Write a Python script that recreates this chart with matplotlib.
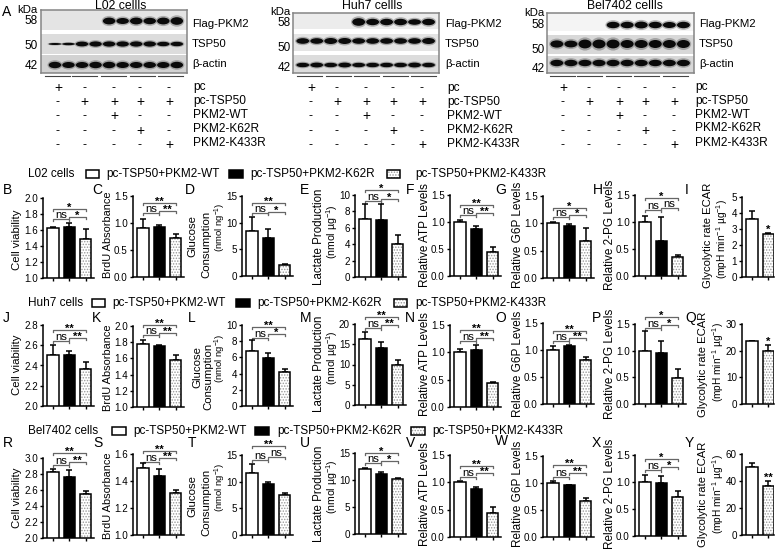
import matplotlib
matplotlib.use('Agg')
import matplotlib.pyplot as plt
from matplotlib.patches import Ellipse, Rectangle

plt.rcParams['font.family'] = ['Liberation Sans', 'DejaVu Sans']
plt.rcParams['mathtext.fontset'] = 'custom'
plt.rcParams['mathtext.rm'] = 'Liberation Sans'
plt.rcParams['mathtext.default'] = 'regular'
plt.rcParams['hatch.linewidth'] = 0.7

# bar heights and top of the error bars
vals_B = [1.63, 1.64, 1.49]; tops_B = [1.64, 1.69, 1.61]
vals_C = [0.90, 0.92, 0.73]; tops_C = [1.08, 0.97, 0.80]
vals_D = [8.5, 7.1, 2.0]; tops_D = [11.0, 8.8, 2.3]
vals_E = [7.1, 7.0, 4.0]; tops_E = [8.9, 8.9, 5.1]
vals_F = [1.00, 0.87, 0.44]; tops_F = [1.04, 0.92, 0.53]
vals_G = [1.00, 0.96, 0.67]; tops_G = [1.03, 0.98, 0.92]
vals_H = [1.00, 0.65, 0.35]; tops_H = [1.12, 1.09, 0.39]
vals_I = [3.65, 2.67]; tops_I = [4.15, 2.75]
vals_J = [2.50, 2.50, 2.37]; tops_J = [2.60, 2.54, 2.43]
vals_K = [1.78, 1.75, 1.58]; tops_K = [1.83, 1.77, 1.64]
vals_L = [6.8, 5.9, 4.2]; tops_L = [8.1, 6.6, 4.6]
vals_M = [16.3, 14.0, 9.8]; tops_M = [18.0, 15.6, 11.1]
vals_N = [1.00, 1.05, 0.43]; tops_N = [1.06, 1.14, 0.45]
vals_O = [1.00, 1.07, 0.82]; tops_O = [1.08, 1.10, 0.87]
vals_P = [1.00, 0.95, 0.49]; tops_P = [1.36, 1.18, 0.66]
vals_Q = [23.5, 19.7]; tops_Q = [23.8, 22.0]
vals_R = [2.82, 2.76, 2.55]; tops_R = [2.86, 2.85, 2.59]
vals_S = [1.50, 1.44, 1.31]; tops_S = [1.53, 1.49, 1.33]
vals_T = [11.6, 9.5, 7.5]; tops_T = [13.3, 10.0, 7.8]
vals_U = [12.0, 11.2, 10.1]; tops_U = [12.3, 11.4, 10.4]
vals_V = [1.00, 0.87, 0.44]; tops_V = [1.03, 0.92, 0.54]
vals_W = [1.00, 0.96, 0.66]; tops_W = [1.04, 0.97, 0.73]
vals_X = [1.00, 0.98, 0.72]; tops_X = [1.13, 1.12, 0.83]
vals_Y = [50.5, 36.5]; tops_Y = [53.0, 40.0]

# band strength per lane, blots
flag_l02 = [0, 0, 0, 0, .85, .75, .85, .8, .85, .95]
tsp_l02 = [.25, .3, .6, .65, .65, .65, .65, .65, .55, .55]
act_l02 = [.8, .75, .75, .8, .8, .75, .75, .75, .75, .8]
flag_huh = [0, 0, 0, 0, .95, .8, .8, .8, .7, .8]
tsp_huh = [.7, .7, .75, .75, .7, .7, .7, .7, .7, .75]
act_huh = [.55, .6, .55, .6, .55, .55, .55, .55, .6, .55]
flag_bel = [0, 0, 0, 0, .8, .8, .85, .8, .75, .8]
tsp_bel = [.9, .85, 1.1, 1.1, 1.1, 1.0, 1.0, 1.0, 1.0, 1.0]
act_bel = [.8, .8, .8, .8, .8, .8, .8, .8, .8, .8]

band_names = ['Flag-PKM2', 'TSP50', 'β-actin']
row_names = ['pc', 'pc-TSP50', 'PKM2-WT', 'PKM2-K62R', 'PKM2-K433R']
signs = [['+', '-', '-', '-', '-'],
         ['-', '+', '+', '+', '+'],
         ['-', '-', '+', '-', '-'],
         ['-', '-', '-', '+', '-'],
         ['-', '-', '-', '-', '+']]
kda = ['58', '50', '42']
group_names = ['pc-TSP50+PKM2-WT', 'pc-TSP50+PKM2-K62R', 'pc-TSP50+PKM2-K433R']

fig = plt.figure(figsize=(7.78, 5.5), dpi=100)
W, H = 778.0, 550.0

# overlay in pixel coords for all the free text
ov = fig.add_axes([0, 0, 1, 1])
ov.set_xlim(0, W)
ov.set_ylim(H, 0)
ov.axis('off')


def draw_blot(box, flag, tsp, act, strips, rows, greys, lane_lim):
    x0, y0, x1, y1 = box
    ax = fig.add_axes([x0 / W, 1 - y1 / H, (x1 - x0) / W, (y1 - y0) / H])
    ax.set_xlim(lane_lim)
    ax.set_ylim(y1, y0)
    ax.set_xticks([])
    ax.set_yticks([])
    for s in ax.spines.values():
        s.set_color('#858585')
        s.set_linewidth(1.1)
    for (a, b), g in zip(strips, greys):
        ax.axhspan(a, b, color=g, lw=0)
    for strength, yc in zip([flag, tsp, act], rows):
        for lane, st in enumerate(strength):
            if st == 0:
                continue
            ax.add_patch(Ellipse((lane, yc), 1.1, 12 * st, color='#555555', alpha=0.4, lw=0))
            ax.add_patch(Ellipse((lane, yc), 0.92, 8 * st, color='#0a0a0a', lw=0))


draw_blot((41, 10, 187, 73), flag_l02, tsp_l02, act_l02,
          [(10, 30), (34, 54), (55, 73)], [21, 44, 65], ['#e4e4e4', '#dcdcdc', '#d2d2d2'], (-1.03, 9.75))
draw_blot((293, 13, 439, 73), flag_huh, tsp_huh, act_huh,
          [(13, 29), (34, 51), (55, 73)], [22, 41, 65], ['#ececec', '#e4e4e4', '#dcdcdc'], (-0.7, 9.75))
draw_blot((547, 13, 694, 73), flag_bel, tsp_bel, act_bel,
          [(13, 31), (35, 54), (56, 73)], [25, 44, 63], ['#f4f4f4', '#d8d8d8', '#d8d8d8'], (-0.7, 9.75))

ov.text(2, 12, 'A', fontsize=10, va='center', ha='left')
for cx, cy, name in [(121, 6, 'L02 cellls'), (372, 6, 'Huh7 cellls'), (625, 6, 'Bel7402 cellls')]:
    ov.text(cx, cy, name, fontsize=8.8, ha='center', va='center')
for rx, ys in [(38, [10, 21, 46, 66]), (291, [12, 23, 48, 68]), (545, [13, 25, 50, 69])]:
    ov.text(rx, ys[0], 'kDa', fontsize=8.2, ha='right', va='center')
    for k, yy in zip(kda, ys[1:]):
        ov.text(rx, yy, k, fontsize=8.5, ha='right', va='center')
for lx, ys in [(192, [24, 44, 64]), (445, [24, 44, 64]), (699, [24, 44, 64])]:
    for name, yy in zip(band_names, ys):
        ov.text(lx, yy, name, fontsize=8.2, ha='left', va='center')

# lines under the blots and the +/- table
for seg in [[45, 72, 101, 130, 158], [297, 326, 354, 383, 411], [550, 577, 606, 634, 663]]:
    for sx in seg:
        ov.plot([sx, sx + 25], [76, 76], color='#444444', lw=0.8)
for cols, lx, ly in [([58, 84.5, 114, 140, 169], 193, [87, 101, 115, 129, 143]),
                     ([311, 337, 366, 393, 422], 447, [88, 102, 116, 130, 144]),
                     ([563, 589, 619, 645, 674], 695, [87, 101, 115, 128, 143])]:
    for r, name in enumerate(row_names):
        ov.text(lx, ly[r], name, fontsize=8.6, ha='left', va='center')
        for cx, sg in zip(cols, signs[r]):
            ov.text(cx, 88 + 14.2 * r, sg, fontsize=10 if sg == '+' else 9, ha='center', va='center')


def leg_box(x0, x1, yc, kind):
    if kind == 2:
        ov.add_patch(Rectangle((x0, yc - 4), x1 - x0, 8, fc='white', ec='#999999', hatch='......', lw=0))
        ov.add_patch(Rectangle((x0, yc - 4), x1 - x0, 8, fc='none', ec='black', lw=1.1))
    else:
        ov.add_patch(Rectangle((x0, yc - 4), x1 - x0, 8, fc='white' if kind == 0 else 'black', ec='black', lw=1.1))


for name, yc, boxes, texts in [('L02 cells', 174, [(86, 99), (229, 243), (387, 400)], [106, 250, 415]),
                               ('Huh7 cells', 303, [(92, 105), (236, 250), (394, 407)], [112, 257, 415]),
                               ('Bel7402 cells', 431, [(112, 126), (255, 269), (411, 425)], [133, 277, 432])]:
    ov.text(28, yc, name, fontsize=8.5, ha='left', va='center')
    for i in range(3):
        leg_box(boxes[i][0], boxes[i][1], yc, i)
        ov.text(texts[i], yc, group_names[i], fontsize=8.5, ha='left', va='center')

PX = 16.3  # px between bars


def draw_panel(letter, lpos, vals, tops, spine_x, y_top, y_bot, ymin, ymax, step, fmt, br=None, blab=None, star=None):
    n = len(vals)
    wpx = 51 if n == 3 else 32
    ax = fig.add_axes([spine_x / W, 1 - y_bot / H, wpx / W, (y_bot - y_top) / H])
    ax.patch.set_alpha(0)
    ax.set_xlim(-10 / PX, (n - 1) + (wpx - 10 - PX * (n - 1)) / PX)
    ax.set_ylim(ymin, ymax)
    xs = list(range(n))
    errs = [t - v for t, v in zip(tops, vals)]
    ax.errorbar(xs, vals, yerr=[[0] * n, errs], fmt='none', ecolor='black', elinewidth=1.1, capsize=2.5, capthick=1.1, zorder=2)
    styles = [('white', 'white', None), ('black', 'black', None), ('white', '#999999', '......')]
    if n == 2:
        styles = [styles[0], styles[2]]
    for x, v, (fc, hc, ht) in zip(xs, vals, styles):
        ax.bar(x, v - ymin, bottom=ymin, width=0.7, color=fc, edgecolor=hc, hatch=ht, linewidth=0, zorder=3)
        ax.bar(x, v - ymin, bottom=ymin, width=0.7, color='none', edgecolor='black', linewidth=1.1, zorder=4)
    for s in ['top', 'right']:
        ax.spines[s].set_visible(False)
    for s in ['left', 'bottom']:
        ax.spines[s].set_linewidth(1.1)
    ticks = []
    t = ymin
    while t <= ymax + 1e-6:
        ticks.append(t)
        t += step
    ax.set_yticks(ticks)
    ax.set_yticklabels([fmt.format(t) for t in ticks], fontsize=7.1)
    ax.set_xticks(xs)
    ax.set_xticklabels([])
    ax.tick_params(axis='both', length=2.5, width=1, pad=1.2)
    ov.text(lpos[0], lpos[1], letter, fontsize=10, ha='left', va='center')
    cx = [spine_x + 10 + PX * i for i in range(3)]
    if br is not None:
        up, lf, rt = br
        for a, b, yy, lab in [(0, 2, up, blab[0]), (0, 1, lf, blab[1]), (1, 2, rt, blab[2])]:
            ov.plot([cx[a], cx[a], cx[b], cx[b]], [yy + 2, yy, yy, yy + 2], color='#666666', lw=0.9)
            if lab == 'ns':
                ov.text((cx[a] + cx[b]) / 2, yy - 4.2, lab, fontsize=8.2, ha='center', va='center')
            else:
                ov.text((cx[a] + cx[b]) / 2, yy - 1.5, lab, fontsize=8, ha='center', va='center', fontweight='bold')
    if star is not None:
        ov.text(spine_x + 10 + PX, y_bot - (y_bot - y_top) * (tops[1] - ymin) / (ymax - ymin) - 3, star,
                fontsize=8, ha='center', va='center', fontweight='bold')


def rot(x, y, s, fs=8.5):
    ov.text(x, y, s, fontsize=fs, rotation=90, ha='center', va='center')


# panels, row 1
draw_panel('B', (3, 190), vals_B, tops_B, 43, 198, 278, 1.0, 2.0, 0.2, '{:.1f}', (209, 219, 217), ('*', 'ns', '*'))
draw_panel('C', (92, 190), vals_C, tops_C, 133, 196, 277, 0.0, 1.5, 0.5, '{:.1f}', (203, 213, 211), ('**', 'ns', '**'))
draw_panel('D', (185, 190), vals_D, tops_D, 242, 196, 276, 0, 15, 5, '{:.0f}', (203, 213, 212), ('**', 'ns', '*'))
draw_panel('E', (300, 190), vals_E, tops_E, 355, 195, 277, 0, 10, 2, '{:.0f}', (190, 201, 199), ('*', 'ns', '*'))
draw_panel('F', (406, 190), vals_F, tops_F, 450, 195, 276, 0.0, 1.5, 0.5, '{:.1f}', (205, 215, 213), ('**', 'ns', '**'))
draw_panel('G', (495, 190), vals_G, tops_G, 543, 196, 278, 0.0, 1.5, 0.5, '{:.1f}', (208, 217, 215), ('*', 'ns', '*'))
draw_panel('H', (593, 190), vals_H, tops_H, 635, 195, 276, 0.0, 1.5, 0.5, '{:.1f}', (198, 210, 208), ('*', 'ns', 'ns'))
draw_panel('I', (685, 190), vals_I, tops_I, 742, 197, 277, 0, 5, 1, '{:.0f}', star='*')
# row 2
draw_panel('J', (3, 318), vals_J, tops_J, 43, 325, 406, 2.0, 2.8, 0.2, '{:.1f}', (330, 341, 338), ('**', 'ns', '**'))
draw_panel('K', (92, 318), vals_K, tops_K, 133, 326, 407, 1.0, 2.0, 0.2, '{:.1f}', (325, 335, 333), ('**', 'ns', '**'))
draw_panel('L', (188, 318), vals_L, tops_L, 242, 325, 406, 0, 10, 2, '{:.0f}', (327, 338, 334), ('**', 'ns', '*'))
draw_panel('M', (300, 318), vals_M, tops_M, 355, 324, 405, 0, 20, 5, '{:.0f}', (317, 328, 325), ('**', 'ns', '**'))
draw_panel('N', (405, 318), vals_N, tops_N, 450, 325, 407, 0.0, 1.5, 0.5, '{:.1f}', (330, 341, 338), ('**', 'ns', '**'))
draw_panel('O', (495, 318), vals_O, tops_O, 543, 323, 404, 0.0, 1.5, 0.5, '{:.1f}', (331, 341, 338), ('**', 'ns', '**'))
draw_panel('P', (592, 318), vals_P, tops_P, 635, 324, 404, 0.0, 1.5, 0.5, '{:.1f}', (317, 328, 325), ('*', 'ns', '*'))
draw_panel('Q', (685, 318), vals_Q, tops_Q, 742, 324, 404, 0, 30, 10, '{:.0f}', star='*')
# row 3
draw_panel('R', (3, 443), vals_R, tops_R, 43, 458, 538, 2.0, 3.0, 0.2, '{:.1f}', (453, 465, 462), ('**', 'ns', '**'))
draw_panel('S', (93, 443), vals_S, tops_S, 133, 454, 535, 1.0, 1.6, 0.2, '{:.1f}', (451, 462, 458), ('**', 'ns', '**'))
draw_panel('T', (188, 443), vals_T, tops_T, 242, 455, 535, 0, 15, 5, '{:.0f}', (446, 460, 457), ('**', 'ns', 'ns'))
draw_panel('U', (300, 443), vals_U, tops_U, 355, 453, 534, 0, 15, 5, '{:.0f}', (453, 463, 461), ('*', 'ns', '*'))
draw_panel('V', (406, 443), vals_V, tops_V, 450, 455, 537, 0.0, 1.5, 0.5, '{:.1f}', (466, 477, 473), ('**', 'ns', '**'))
draw_panel('W', (495, 441), vals_W, tops_W, 543, 456, 537, 0.0, 1.5, 0.5, '{:.1f}', (465, 477, 473), ('**', 'ns', '**'))
draw_panel('X', (592, 443), vals_X, tops_X, 635, 455, 536, 0.0, 1.5, 0.5, '{:.1f}', (459, 470, 467), ('*', 'ns', '*'))
draw_panel('Y', (685, 443), vals_Y, tops_Y, 742, 454, 535, 0, 60, 20, '{:.0f}', star='**')

# rotated y labels
ng = '(nmol ng$^{-1}$)'
ug = '(nmol µg$^{-1}$)'
ecar = '(mpH min$^{-1}$ µg$^{-1}$)'
for yy, brdu in [(240, 235), (365, 368), (498, 496)]:
    rot(17, yy, 'Cell viability', 8.2)
    rot(108, brdu, 'BrdU Absorbance', 7.9)
for x, y, s in [(192, 236, 'Glucose'), (206, 244, 'Consumption'),
                (197, 367, 'Glucose'), (208, 376, 'Consumption'),
                (192, 496, 'Glucose'), (206, 502, 'Consumption')]:
    rot(x, y, s, 8.2)
for x, y in [(220, 227), (220, 358), (220, 487)]:
    rot(x, y, ng, 6.8)
for x, y in [(319, 237), (319, 364), (319, 494)]:
    rot(x, y, 'Lactate Production', 8.3)
for x, y in [(332, 232), (332, 358), (332, 487)]:
    rot(x, y, ug, 7.6)
for yc in [235, 364, 494]:
    rot(425, yc, 'Relative ATP Levels')
    rot(518, yc, 'Relative G6P Levels')
    rot(610, yc, 'Relative 2-PG Levels')
for x, y in [(708, 235), (703, 364), (703, 494)]:
    rot(x, y, 'Glycolytic rate ECAR', 8.1)
for x, y in [(722, 239), (718, 362), (718, 494)]:
    rot(x, y, ecar, 7.3)

fig.savefig('out.png', dpi=100)
